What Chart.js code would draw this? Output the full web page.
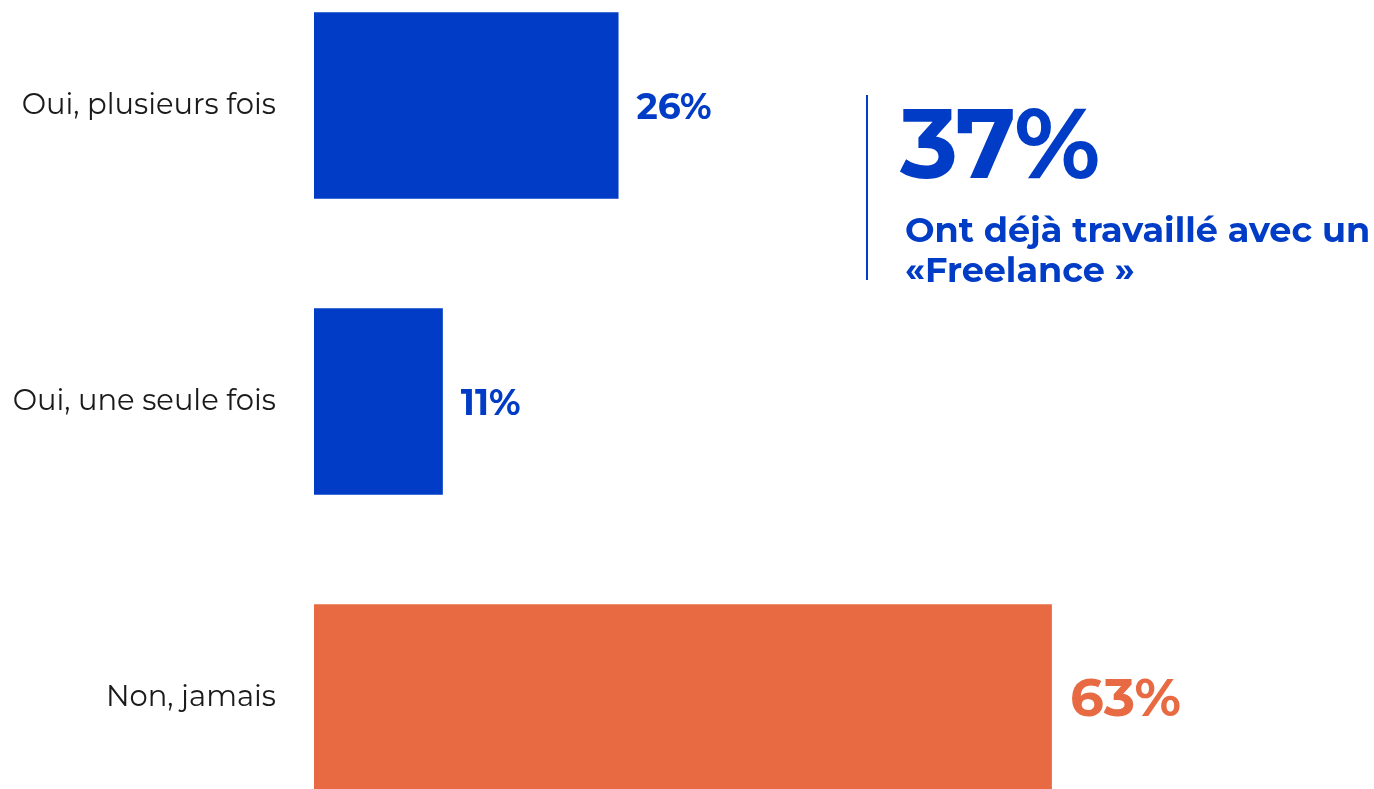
<!DOCTYPE html>
<html>
<head>
<meta charset="utf-8">
<script src="https://cdn.jsdelivr.net/npm/chart.js@4"></script>
<style>
  body { margin: 0; background: #fff; overflow: hidden; }
  #wrap { position: absolute; left: 0; top: -90px; width: 1374px; height: 983px; }
  #note { position: absolute; left: 866px; top: 95px; height: 185px; border-left: 2px solid #003CC5; }
  #big { position: absolute; left: 32px; top: -12px; font: 700 98px "Montserrat", "Open Sans", sans-serif; color: #003CC5; letter-spacing: -2px; white-space: nowrap; }
  #sub { position: absolute; left: 37px; top: 115px; font: 700 35px "Montserrat", "Open Sans", sans-serif; color: #003CC5; line-height: 40px; white-space: nowrap; }
</style>
</head>
<body>
<div id="wrap"><canvas id="myChart" width="1374" height="983"></canvas></div>
<div id="note">
  <div id="big">37%</div>
  <div id="sub">Ont déjà travaillé avec un<br>«Freelance »</div>
</div>
<script>
const categorias = ['Oui, plusieurs fois', 'Oui, une seule fois', 'Non, jamais']
const valores = [26, 11, 63]
const colores = ['#003CC5', '#003CC5', '#E86A42']

// etiquetas de valor al final de cada barra
const etiquetas = {
    id: 'etiquetas',
    afterDatasetsDraw(chart) {
        const ctx = chart.ctx
        const meta = chart.getDatasetMeta(0)
        ctx.save()
        ctx.textBaseline = 'middle'
        ctx.textAlign = 'left'
        meta.data.forEach((bar, i) => {
            const grande = valores[i] > 50
            ctx.font = `700 ${grande ? 53 : 36}px "Montserrat", "Open Sans", sans-serif`
            ctx.fillStyle = colores[i]
            ctx.fillText(valores[i] + '%', bar.x + 18, bar.y + 3)
        })
        ctx.restore()
    }
}

const ctx = document.getElementById('myChart').getContext('2d')
new Chart(ctx, {
    type: 'bar',
    data: {
        labels: categorias,
        datasets: [{
            data: valores,
            backgroundColor: colores,
            categoryPercentage: 1,
            barPercentage: 0.63
        }]
    },
    options: {
        indexAxis: 'y',
        responsive: false,
        animation: false,
        layout: { padding: 0 },
        plugins: { legend: { display: false }, tooltip: { enabled: false } },
        scales: {
            x: { display: false, min: 0, max: 90.5 },
            y: {
                grid: { display: false },
                border: { display: false },
                afterFit: (scale) => { scale.width = 314 },
                ticks: {
                    padding: 30,
                    color: '#1a1a1a',
                    font: { family: '"Montserrat", "Open Sans", sans-serif', size: 29 }
                }
            }
        }
    },
    plugins: [etiquetas]
})
</script>
</body>
</html>
